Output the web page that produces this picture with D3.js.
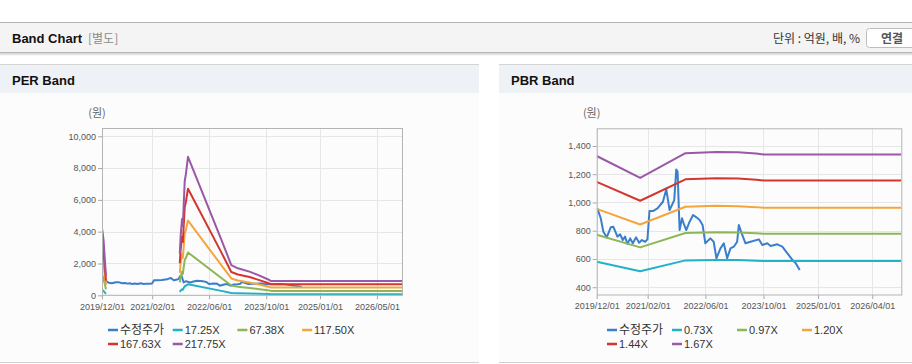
<!DOCTYPE html>
<html><head><meta charset="utf-8">
<script src="https://cdn.jsdelivr.net/npm/d3@7/dist/d3.min.js"></script>
<style>
html,body{margin:0;padding:0;background:#fff;overflow:hidden;}
svg{display:block;font-family:"Liberation Sans",Arial,"Noto Sans CJK KR",sans-serif;}
</style></head><body>
<svg id="c" width="912" height="364"></svg>
<script>
// ---------- data ----------
const priceDates = ['2019-12-06','2020-01-04','2020-01-26','2020-02-23','2020-03-28','2020-04-19','2020-05-23','2020-06-14','2020-07-07','2020-07-26','2020-08-15','2020-09-07','2020-09-29','2020-10-27','2020-11-21','2020-12-14','2021-01-11','2021-01-30','2021-02-16','2021-03-17','2021-04-24','2021-06-09','2021-07-07','2021-08-04','2021-08-24','2021-09-12','2021-09-29','2021-10-10','2021-10-27','2021-11-16','2021-11-30','2021-12-22','2022-01-19','2022-02-17','2022-03-17','2022-04-13','2022-05-08','2022-05-31','2022-07-12','2022-08-09','2022-09-01','2022-10-05','2022-11-02','2022-11-30','2022-12-28','2023-01-25','2023-02-22','2023-03-08','2023-04-06','2023-05-03','2023-06-15','2023-08-23','2023-09-21','2023-11-02','2023-11-30','2024-01-25','2024-03-07','2024-04-19','2024-05-31','2024-06-28','2024-07-31'];
const priceValues = [958,888,793,753,824,828,758,775,734,758,706,746,711,753,715,734,722,739,939,939,958,1005,1093,946,982,1017,1234,1217,805,888,852,805,864,911,895,876,840,711,746,722,605,675,711,605,675,687,722,840,770,711,722,739,699,711,692,704,687,640,593,570,522];

const perBandDates = ['2019-12-03','2019-12-14','2019-12-24','2020-01-04','2020-01-05','2021-09-24','2021-10-01','2021-10-13','2021-10-20','2021-11-05','2021-11-15','2021-12-03','2022-09-13','2022-12-07','2023-02-01','2023-05-11','2023-07-21','2023-10-28','2023-11-12','2026-12-01'];
const perBand1725 = [328,276,190,95,null,207,293,380,345,569,604,690,278,151,135,118,101,76,71,71];
const perBand6738 = [1280,1078,741,371,null,809,1145,1482,1348,2224,2358,2695,1085,620,540,461,396,297,278,278];
const perBand11750 = [2233,1880,1293,646,null,1410,1998,2585,2350,3878,4113,4700,1892,1060,930,804,691,518,485,485];
const perBand16763 = [3185,2682,1844,922,null,2012,2850,3688,3353,5532,5867,6705,2699,1463,1308,1147,986,739,692,692];
const perBand21775 = [4137,3484,2395,1198,null,2613,3702,4791,4355,7186,7621,8710,3506,1901,1698,1489,1280,960,899,899];
const perLabels = ['수정주가','17.25X','67.38X','117.50X','167.63X','217.75X'];

const pbrBandDates = ['2019-12-01','2020-11-30','2021-12-15','2022-09-01','2023-03-01','2023-08-01','2023-10-01','2026-12-01'];
const pbrBand073 = [581,513,590,593,593,588,585,585];
const pbrBand097 = [772,682,784,789,788,782,778,778];
const pbrBand120 = [955,844,970,976,974,967,962,962];
const pbrBand144 = [1146,1012,1164,1171,1169,1161,1155,1155];
const pbrBand167 = [1329,1174,1349,1358,1356,1346,1339,1339];
const pbrLabels = ['수정주가','0.73X','0.97X','1.20X','1.44X','1.67X'];

const xDomain = ['2019-12-01','2026-12-01'];
const perXTicks = ['2019-12-01','2021-02-01','2022-06-01','2023-10-01','2025-01-01','2026-05-01'];
const pbrXTicks = ['2019-12-01','2021-02-01','2022-06-01','2023-10-01','2025-01-01','2026-04-01'];
const perYTicks = [0,2000,4000,6000,8000,10000];
const pbrYTicks = [400,600,800,1000,1200,1400];
const perYDomain = [0,10520];
const pbrYDomain = [345,1525];

const colors = ['#3b7fcc','#22b2c8','#8db656','#f3a63e','#d2362f','#9a58a6'];

// ---------- drawing ----------
const parse = d3.utcParse('%Y-%m-%d');
const fmtDate = d3.utcFormat('%Y/%m/%d');
const svg = d3.select('#c');

// page header
svg.append('rect').attr('x',0).attr('y',22).attr('width',912).attr('height',31).attr('fill','#f4f4f4');
svg.append('line').attr('x1',0).attr('x2',912).attr('y1',22.5).attr('y2',22.5).attr('stroke','#b4b4b4');
const g0 = svg.append('defs').append('linearGradient').attr('id','shd').attr('x1',0).attr('x2',0).attr('y1',0).attr('y2',1);
g0.append('stop').attr('offset',0).attr('stop-color','#cfcfcf');
g0.append('stop').attr('offset',1).attr('stop-color','#ffffff');
svg.append('rect').attr('x',0).attr('y',53).attr('width',912).attr('height',3).attr('fill','url(#shd)');
svg.append('line').attr('x1',0).attr('x2',912).attr('y1',52.5).attr('y2',52.5).attr('stroke','#b8b8b8');
svg.append('text').attr('x',12).attr('y',43).attr('font-size',13).attr('font-weight','bold').attr('fill','#111').text('Band Chart');
svg.append('text').attr('x',88).attr('y',43).attr('font-size',12).attr('fill','#8a8a8a').attr('font-family','"Noto Sans CJK KR",sans-serif').text('[별도]');
svg.append('text').attr('x',860).attr('y',42.5).attr('text-anchor','end').attr('font-size',12).attr('fill','#333').attr('font-family','"Noto Sans CJK KR",sans-serif').text('단위 : 억원, 배, %');
svg.append('rect').attr('x',866.5).attr('y',28.5).attr('width',52).attr('height',19).attr('rx',3).attr('fill','#fff').attr('stroke','#bdbdbd');
svg.append('text').attr('x',892).attr('y',42.5).attr('text-anchor','middle').attr('font-size',12).attr('font-weight','bold').attr('fill','#555').attr('font-family','"Noto Sans CJK KR",sans-serif').text('연결');

function panel(cfg){
  const p = svg.append('g');
  p.append('rect').attr('x',cfg.px).attr('y',64).attr('width',cfg.pw).attr('height',299).attr('fill','#fcfcfc');
  p.append('rect').attr('x',cfg.px).attr('y',65).attr('width',cfg.pw).attr('height',28).attr('fill','#eef2f7');
  p.append('line').attr('x1',cfg.px).attr('x2',cfg.px+cfg.pw).attr('y1',64.5).attr('y2',64.5).attr('stroke','#d4d4d4');
  p.append('line').attr('x1',cfg.px).attr('x2',cfg.px+cfg.pw).attr('y1',362.5).attr('y2',362.5).attr('stroke','#d0d0d0');
  p.append('text').attr('x',cfg.px+12).attr('y',85).attr('font-size',13).attr('font-weight','bold').attr('fill','#111').text(cfg.title);

  const x = d3.scaleUtc().domain(xDomain.map(parse)).range([cfg.x0,cfg.x1]);
  const y = d3.scaleLinear().domain(cfg.yDomain).range([cfg.y0,cfg.y1]);

  // grid
  p.append('g').selectAll('line').data(cfg.xTicks.map(parse)).join('line')
    .attr('x1',d=>Math.round(x(d))+0.5).attr('x2',d=>Math.round(x(d))+0.5).attr('y1',cfg.y1).attr('y2',cfg.y0).attr('stroke','#e6e6e6');
  p.append('g').selectAll('line').data(cfg.yTicks).join('line')
    .attr('x1',cfg.x0).attr('x2',cfg.x1).attr('y1',d=>Math.round(y(d))+0.5).attr('y2',d=>Math.round(y(d))+0.5).attr('stroke','#e6e6e6');

  // axes
  const ax = p.append('g').attr('transform',`translate(0,${cfg.y0})`)
    .call(d3.axisBottom(x).tickValues(cfg.xTicks.map(parse)).tickFormat(fmtDate).tickSize(4).tickPadding(4));
  const ay = p.append('g').attr('transform',`translate(${cfg.x0},0)`)
    .call(d3.axisLeft(y).tickValues(cfg.yTicks).tickFormat(d3.format(',')).tickSize(4).tickPadding(2));
  [ax,ay].forEach(a=>{
    a.select('.domain').remove();
    a.selectAll('line').attr('stroke','#a8a8a8');
    a.selectAll('text').attr('fill','#555').attr('font-size',9).attr('font-family','"Liberation Sans",Arial,sans-serif');
  });

  // clip
  const cid = 'clip'+cfg.title.replace(/\s/g,'');
  svg.select('defs').append('clipPath').attr('id',cid).append('rect')
    .attr('x',cfg.x0).attr('y',cfg.y1).attr('width',cfg.x1-cfg.x0).attr('height',cfg.y0-cfg.y1);
  const lines = p.append('g').attr('clip-path',`url(#${cid})`);
  const line = d3.line().defined(d=>d.v!=null).x(d=>x(d.d)).y(d=>y(d.v));
  const series = [{dates:priceDates, vals:priceValues}].concat(cfg.bands.map(b=>({dates:cfg.bandDates, vals:b})));
  series.forEach((s,i)=>{
    const data = s.dates.map((d,k)=>({d:parse(d), v:s.vals[k]}));
    lines.append('path').datum(data).attr('d',line).attr('fill','none')
      .attr('stroke',colors[i]).attr('stroke-width',2).attr('stroke-linejoin','round');
  });

  // frame
  p.append('rect').attr('x',cfg.x0+0.5).attr('y',cfg.y1+0.5).attr('width',cfg.x1-cfg.x0).attr('height',cfg.y0-cfg.y1-0.5)
    .attr('fill','none').attr('stroke','#b4b4b4');

  // unit label
  p.append('text').attr('x',cfg.x0-5).attr('y',117).attr('text-anchor','middle').attr('font-size',11).attr('fill','#666')
    .attr('font-family','"Noto Sans CJK KR",sans-serif').text('(원)');

  // legend
  const lg = p.append('g');
  cfg.labels.forEach((t,i)=>{
    const col = i%4, row = Math.floor(i/4);
    const lx = cfg.legX + col*cfg.legStep, ly = 330 + row*14;
    lg.append('line').attr('x1',lx).attr('x2',lx+10).attr('y1',ly).attr('y2',ly).attr('stroke',colors[i]).attr('stroke-width',2.5);
    lg.append('text').attr('x',lx+12).attr('y',ly+4).attr('font-size',i===0?12:11).attr('fill','#333')
      .attr('font-family', i===0?'"Noto Sans CJK KR",sans-serif':'"Liberation Sans",Arial,sans-serif').text(t);
  });
}

panel({title:'PER Band', px:0, pw:479, x0:102, x1:402, y0:295.3, y1:128, yDomain:perYDomain,
  xTicks:perXTicks, yTicks:perYTicks, bandDates:perBandDates,
  bands:[perBand1725,perBand6738,perBand11750,perBand16763,perBand21775], labels:perLabels, legX:108, legStep:64.7});
panel({title:'PBR Band', px:499, pw:413, x0:596.7, x1:901.3, y0:295, y1:128.3, yDomain:pbrYDomain,
  xTicks:pbrXTicks, yTicks:pbrYTicks, bandDates:pbrBandDates,
  bands:[pbrBand073,pbrBand097,pbrBand120,pbrBand144,pbrBand167], labels:pbrLabels, legX:607, legStep:65});
</script>
</body></html>
